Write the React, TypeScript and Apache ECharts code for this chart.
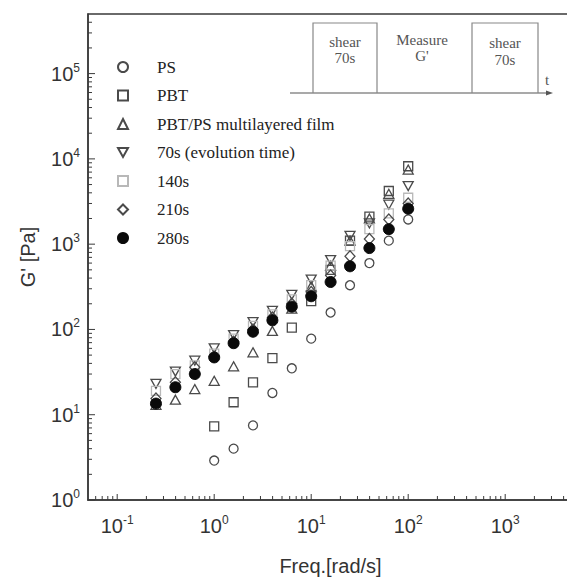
import React, { useEffect, useRef } from 'react';
import * as echarts from 'echarts';

// angular frequency [rad/s]
const freq = [0.251, 0.398, 0.631, 1, 1.585, 2.512, 3.981, 6.31, 10, 15.85, 25.12, 39.81, 63.1, 100];
// G' [Pa]
const psVals = [null, null, null, 2.9, 4.0, 7.5, 18, 35, 78, 158, 330, 600, 1100, 1950];
const pbtVals = [null, null, null, 7.3, 14, 24, 46, 105, 215, 500, 1100, 2100, 4200, 8200];
const filmVals = [13, 15, 20, 25, 37, 54, 96, 175, 320, 560, 1100, 2000, 3900, 7500];
const t70Vals = [23, 32, 43, 60, 86, 122, 165, 255, 385, 650, 1250, 1750, 2900, 4800];
const t140Vals = [19, 30, 38, 52, 78, 110, 150, 225, 330, 560, 950, 1500, 2300, 3500];
const t210Vals = [15.5, 24, 36, 48, 72, 100, 138, 200, 275, 430, 720, 1150, 1950, 3000];
const t280Vals = [13.5, 21, 30, 47, 69, 94, 128, 185, 245, 360, 550, 900, 1500, 2600];

const seriesNames = ['PS', 'PBT', 'PBT/PS multilayered film', '70s (evolution time)', '140s', '210s', '280s'];

// axis ticks
const xMajorTicks = [0.1, 1, 10, 100, 1000];
const xMinorTicks = [0.06, 0.07, 0.08, 0.09, 0.2, 0.3, 0.4, 0.5, 0.6, 0.7, 0.8, 0.9, 2, 3, 4, 5, 6, 7, 8, 9,
  20, 30, 40, 50, 60, 70, 80, 90, 200, 300, 400, 500, 600, 700, 800, 900, 2000, 3000, 4000];
const yMajorTicks = [1, 10, 100, 1000, 10000, 100000];
const yMinorTicks = [2, 3, 4, 5, 6, 7, 8, 9, 20, 30, 40, 50, 60, 70, 80, 90, 200, 300, 400, 500, 600, 700, 800, 900,
  2000, 3000, 4000, 5000, 6000, 7000, 8000, 9000, 20000, 30000, 40000, 50000, 60000, 70000, 80000, 90000,
  200000, 300000, 400000];

const X_MIN = 0.05, X_MAX = 5000, Y_MIN = 1, Y_MAX = 5e5;

const pair = (vals: (number | null)[]) =>
  freq.map((f, i) => (vals[i] == null ? null : [f, vals[i]])).filter((d) => d !== null);

const logLabel = (v: number) => {
  const l = Math.log10(v);
  const n = Math.round(l);
  if (Math.abs(l - n) > 1e-3) return '';
  return `{b|10}{s|${n}}`;
};

const labelRich = {
  b: { fontSize: 20, fontFamily: 'Liberation Sans', color: '#333', lineHeight: 24 },
  s: { fontSize: 12, fontFamily: 'Liberation Sans', color: '#333', verticalAlign: 'top', lineHeight: 24 },
};

const downTri = 'path://M0,0 L10,0 L5,9 Z';
const stroke = '#4a4a4a';

export default function App() {
  const ref = useRef<HTMLDivElement>(null);
  useEffect(() => {
    const chart = echarts.init(ref.current!, null, { renderer: 'svg' });
    const openStyle = (c: string) => ({ color: 'rgba(0,0,0,0)', borderColor: c, borderWidth: 1.3, opacity: 1 });
    const tickSeries = (data: number[][], horizontal: boolean) => ({
      type: 'custom',
      silent: true,
      z: 10,
      clip: false,
      data,
      renderItem: (params: any, api: any) => {
        const p = api.coord([api.value(0), api.value(1)]);
        const len = api.value(2);
        return {
          type: 'line',
          shape: horizontal
            ? { x1: p[0], y1: p[1], x2: p[0] + len, y2: p[1] }
            : { x1: p[0], y1: p[1], x2: p[0], y2: p[1] - len },
          style: { stroke: '#3a3a3a', lineWidth: 1 },
        };
      },
    });
    const option: any = {
      animation: false,
      backgroundColor: '#fff',
      grid: {
        left: 88, top: 14, right: -6, bottom: 79,
        show: true, borderColor: '#3a3a3a', borderWidth: 1.5,
        outerBoundsMode: 'none', containLabel: false,
      },
      legend: {
        orient: 'vertical', left: 112, top: 52,
        itemWidth: 10, itemHeight: 10, itemGap: 8.5,
        data: seriesNames,
        textStyle: { fontSize: 17, fontFamily: 'Liberation Serif', color: '#222', lineHeight: 20, padding: [0, 0, 0, 24] },
      },
      xAxis: {
        type: 'log', logBase: 10, min: X_MIN, max: X_MAX,
        name: 'Freq.[rad/s]', nameLocation: 'middle', nameGap: 56, nameMoveOverlap: false,
        nameTextStyle: { fontSize: 20, fontFamily: 'Liberation Sans', color: '#333' },
        axisLine: { lineStyle: { color: '#3a3a3a', width: 1.5 } },
        axisTick: { show: false },
        minorTick: { show: false },
        splitLine: { show: false },
        axisLabel: { formatter: logLabel, rich: labelRich, margin: 14, showMinLabel: true, showMaxLabel: true, hideOverlap: false },
      },
      yAxis: {
        type: 'log', logBase: 10, min: Y_MIN, max: Y_MAX,
        name: "G' [Pa]", nameLocation: 'middle', nameGap: 50, nameRotate: 90, nameMoveOverlap: false,
        nameTextStyle: { fontSize: 20, fontFamily: 'Liberation Sans', color: '#333' },
        axisLine: { lineStyle: { color: '#3a3a3a', width: 1.5 } },
        axisTick: { show: false },
        minorTick: { show: false },
        splitLine: { show: false },
        axisLabel: { formatter: logLabel, rich: labelRich, margin: 8, hideOverlap: false },
      },
      series: [
        { name: seriesNames[0], type: 'scatter', symbol: 'circle', symbolSize: 9, itemStyle: openStyle(stroke), data: pair(psVals) },
        { name: seriesNames[1], type: 'scatter', symbol: 'rect', symbolSize: 9, itemStyle: openStyle(stroke), data: pair(pbtVals) },
        { name: seriesNames[2], type: 'scatter', symbol: 'triangle', symbolSize: [10, 9], itemStyle: openStyle(stroke), data: pair(filmVals) },
        { name: seriesNames[3], type: 'scatter', symbol: downTri, symbolSize: [10, 9], itemStyle: openStyle(stroke), data: pair(t70Vals) },
        { name: seriesNames[4], type: 'scatter', symbol: 'rect', symbolSize: 9, itemStyle: openStyle('#b8b8b8'), data: pair(t140Vals) },
        { name: seriesNames[5], type: 'scatter', symbol: 'diamond', symbolSize: [10, 11], itemStyle: openStyle(stroke), data: pair(t210Vals) },
        { name: seriesNames[6], type: 'scatter', symbol: 'circle', symbolSize: 11, itemStyle: { color: '#0a0a0a', borderColor: '#0a0a0a', borderWidth: 1, opacity: 1 }, data: pair(t280Vals) },
        tickSeries(xMajorTicks.map((v) => [v, Y_MIN, 6]), false),
        tickSeries(xMinorTicks.map((v) => [v, Y_MIN, 4]), false),
        tickSeries(yMajorTicks.map((v) => [X_MIN, v, 7]), true),
        tickSeries(yMinorTicks.map((v) => [X_MIN, v, 4]), true),
      ],
      graphic: [
        { type: 'line', shape: { x1: 290, y1: 93, x2: 548, y2: 93 }, style: { stroke: '#555', lineWidth: 1.2 } },
        { type: 'polygon', shape: { points: [[553, 93], [546, 90.5], [546, 95.5]] }, style: { fill: '#555' } },
        { type: 'polyline', shape: { points: [[313, 93], [313, 23], [377, 23], [377, 93]] }, style: { stroke: '#888', lineWidth: 1.2, fill: null } },
        { type: 'polyline', shape: { points: [[472, 93], [472, 23], [538, 23], [538, 93]] }, style: { stroke: '#888', lineWidth: 1.2, fill: null } },
        { type: 'text', x: 345, y: 42, style: { text: 'shear', fill: '#555', font: '15px "Liberation Serif"', align: 'center', verticalAlign: 'middle' } },
        { type: 'text', x: 345, y: 58, style: { text: '70s', fill: '#555', font: '15px "Liberation Serif"', align: 'center', verticalAlign: 'middle' } },
        { type: 'text', x: 422, y: 40, style: { text: 'Measure', fill: '#555', font: '15px "Liberation Serif"', align: 'center', verticalAlign: 'middle' } },
        { type: 'text', x: 422, y: 56, style: { text: "G'", fill: '#555', font: '15px "Liberation Serif"', align: 'center', verticalAlign: 'middle' } },
        { type: 'text', x: 505, y: 43, style: { text: 'shear', fill: '#555', font: '15px "Liberation Serif"', align: 'center', verticalAlign: 'middle' } },
        { type: 'text', x: 505, y: 60, style: { text: '70s', fill: '#555', font: '15px "Liberation Serif"', align: 'center', verticalAlign: 'middle' } },
        { type: 'text', x: 547, y: 80, style: { text: 't', fill: '#555', font: '15px "Liberation Serif"', align: 'center', verticalAlign: 'middle' } },
      ],
    };
    chart.setOption(option);
    return () => chart.dispose();
  }, []);
  return <div ref={ref} style={{ position: 'fixed', left: 0, top: 0, width: 567, height: 579 }} />;
}
